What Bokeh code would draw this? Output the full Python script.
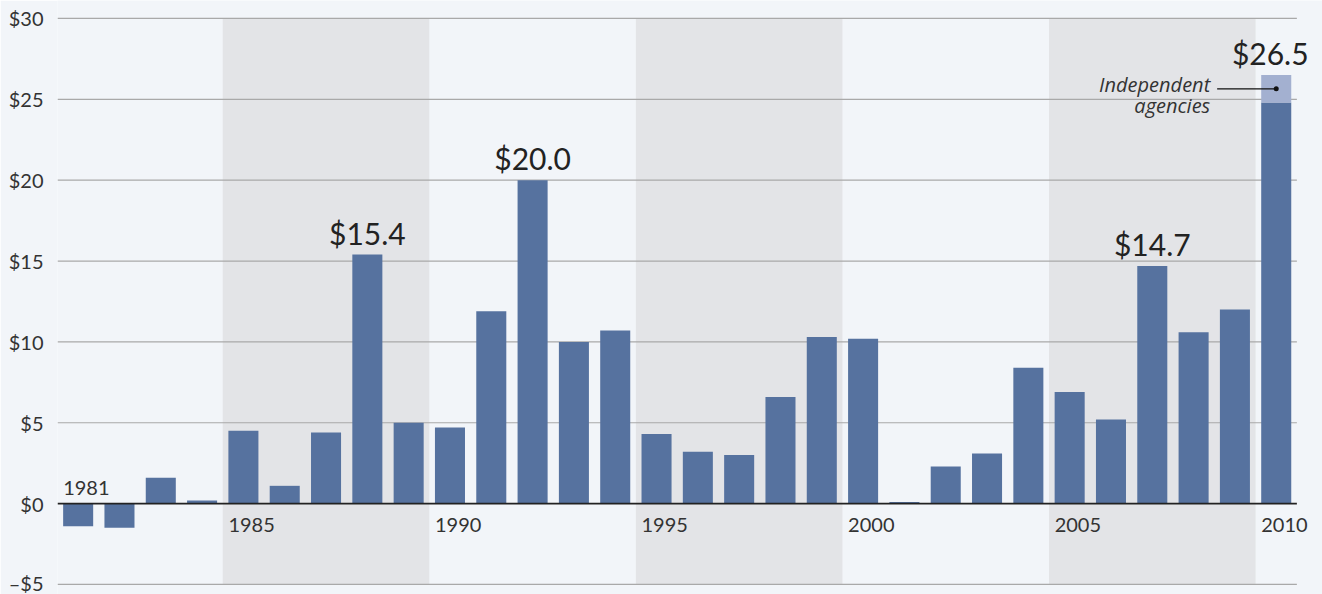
from bokeh.plotting import figure
from bokeh.models import ColumnDataSource, FixedTicker, Range1d
from bokeh.core.properties import value
from bokeh.embed import file_html
from bokeh.resources import INLINE

# ---------------- data ----------------
years = [1981, 1982, 1983, 1984, 1985, 1986, 1987, 1988, 1989, 1990,
         1991, 1992, 1993, 1994, 1995, 1996, 1997, 1998, 1999, 2000,
         2001, 2002, 2003, 2004, 2005, 2006, 2007, 2008, 2009, 2010]
totals = [-1.4, -1.5, 1.6, 0.2, 4.5, 1.1, 4.4, 15.4, 5.0, 4.7,
          11.9, 20.0, 10.0, 10.7, 4.3, 3.2, 3.0, 6.6, 10.3, 10.2,
          0.1, 2.3, 3.1, 8.4, 6.9, 5.2, 14.7, 10.6, 12.0, 26.5]
independent_agencies = {2010: 1.7}
callout_years = [1988, 1992, 2007, 2010]
label_years = [1981, 1985, 1990, 1995, 2000, 2005, 2010]
band_start_years = [1985, 1995, 2005]
y_ticks = [-5, 0, 5, 10, 15, 20, 25, 30]
y_tick_labels = ["\u2013$5", "$0", "$5", "$10", "$15", "$20", "$25", "$30"]

# ---------------- style ----------------
BG = "#f2f5f9"
BAND = "#e3e4e7"
BAR = "#56729f"
BAR_LIGHT = "#a3b0d0"
GRID = "#a9a9a9"
TEXT = "#333333"
FONT = "Lato"
BAR_W = 0.727

p = figure(width=1322, height=594, output_backend="svg", toolbar_location=None,
           x_range=Range1d(years[0] - 0.5, 2011.12),
           y_range=Range1d(-5.62, 31.11),
           min_border_left=57, min_border_right=0, min_border_top=0,
           min_border_bottom=0)
p.background_fill_color = BG
p.border_fill_color = BG
p.outline_line_color = None
p.xgrid.visible = False
p.ygrid.visible = False
p.xaxis.visible = False

yax = p.yaxis[0]
yax.ticker = FixedTicker(ticks=y_ticks)
yax.major_label_overrides = {t: l for t, l in zip(y_ticks, y_tick_labels)}
yax.axis_line_color = None
yax.major_tick_line_color = None
yax.minor_tick_line_color = None
yax.major_tick_out = 0
yax.major_tick_in = 0
yax.minor_tick_out = 0
yax.major_label_standoff = 14
yax.major_label_text_font = FONT
yax.major_label_text_font_size = "20px"
yax.major_label_text_color = TEXT

# shaded 5-year bands
p.quad(left=[b - 0.5 for b in band_start_years],
       right=[b + 4.5 for b in band_start_years],
       bottom=y_ticks[0], top=y_ticks[-1],
       fill_color=BAND, line_color=None)

# grid lines
x0 = years[0] - 0.5
x1 = years[-1] + 0.5
grid_y = [t for t in y_ticks if t != 0]
p.segment(x0=[x0] * len(grid_y), x1=[x1] * len(grid_y), y0=grid_y, y1=grid_y,
          line_color=GRID, line_width=1.2)

# bars
agency = [independent_agencies.get(y, 0) for y in years]
main_top = [t - a for t, a in zip(totals, agency)]
src = ColumnDataSource(dict(x=years, top=main_top, total=totals, agency=agency))
p.vbar(x="x", top="top", bottom=0, width=BAR_W, source=src,
       fill_color=BAR, line_color=None)
ag_years = list(independent_agencies.keys())
ag_tot = [totals[years.index(y)] for y in ag_years]
ag_bot = [t - independent_agencies[y] for t, y in zip(ag_tot, ag_years)]
p.vbar(x=ag_years, top=ag_tot, bottom=ag_bot, width=BAR_W,
       fill_color=BAR_LIGHT, line_color=None)

# zero line
p.segment(x0=[x0], x1=[x1], y0=[0], y1=[0], line_color="#222222", line_width=1.6)

# year labels
ly_y_off = [-16 if totals[years.index(y)] < 0 else 21 for y in label_years]
p.text(x=[y - BAR_W / 2 for y in label_years], y=[0] * len(label_years),
       text=[str(y) for y in label_years], y_offset=ly_y_off,
       text_align="left", text_baseline="middle",
       text_font=value(FONT), text_font_size="20px", text_color=TEXT)

# callout values
c_vals = [totals[years.index(y)] for y in callout_years]
c_xoff = [-6 if y == years[-1] else 0 for y in callout_years]
p.text(x=callout_years, y=c_vals, text=["$%.1f" % v for v in c_vals],
       x_offset=c_xoff, y_offset=-22, text_align="center", text_baseline="middle",
       text_font=value(FONT), text_font_size="30px", text_color="#222222")

# independent agencies annotation
for y in ag_years:
    tot = totals[years.index(y)]
    mid = tot - independent_agencies[y] / 2
    p.segment(x0=[y - 1.43], x1=[y], y0=[mid], y1=[mid], line_color="#111111",
              line_width=1.2)
    p.scatter(x=[y], y=[mid], size=5, fill_color="#111111", line_color=None)
    p.text(x=[y, y], y=[mid, mid], text=["Independent", "agencies"],
           x_offset=-66, y_offset=[-4, 17], text_align="right",
           text_baseline="middle", text_font=value("Open Sans"),
           text_font_style="italic", text_font_size="20px", text_color=TEXT)

open("out.html", "w").write(file_html(p, INLINE))
